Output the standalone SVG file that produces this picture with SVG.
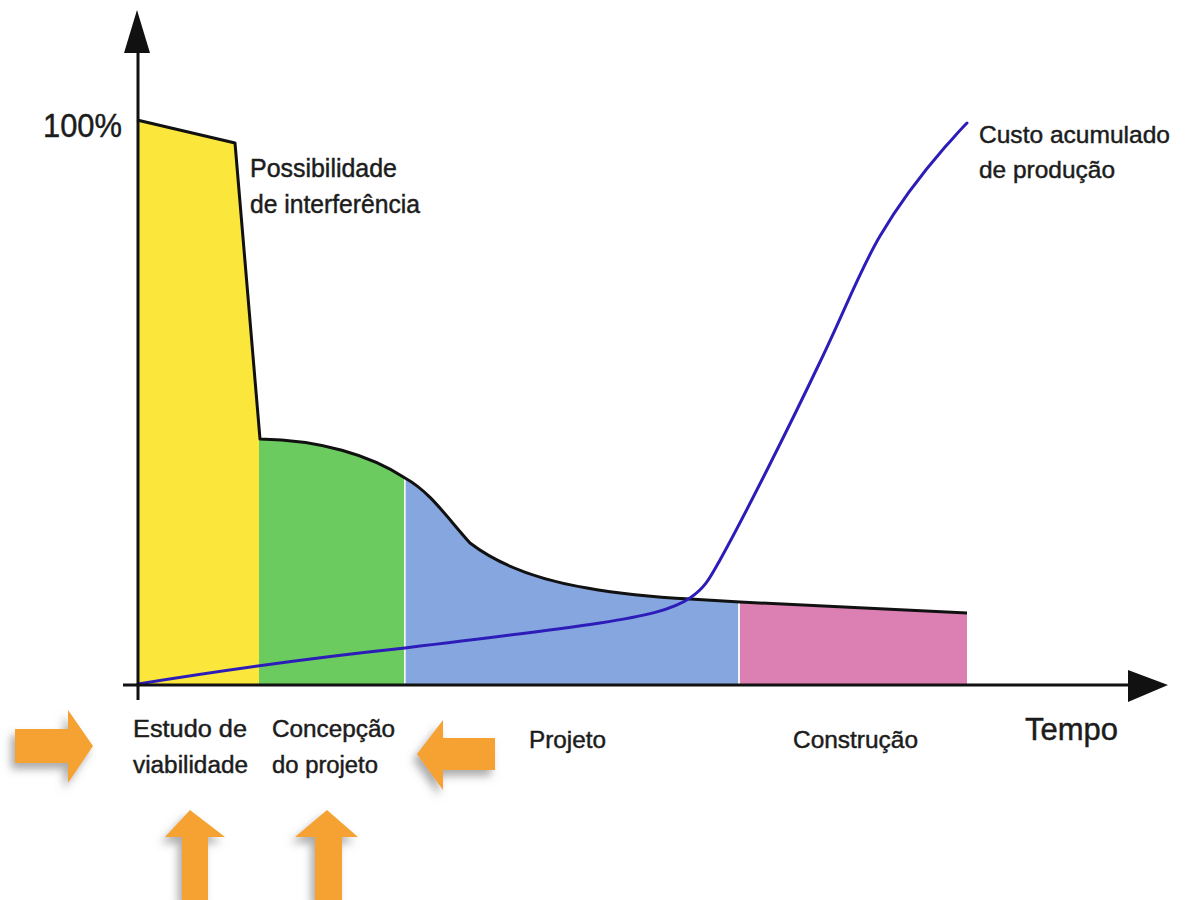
<svg xmlns="http://www.w3.org/2000/svg" width="1187" height="900" viewBox="0 0 1187 900">
  <style>
    .lbl { font-family: "Liberation Sans", Arial, sans-serif; fill: #1c1c1c; stroke: #1c1c1c; stroke-width: 0.45; }
    .axis { stroke: #111; stroke-width: 3; fill: none; }
    .outline { stroke: #111; stroke-width: 3; fill: none; stroke-linejoin: round; }
    .cost { stroke: #2d1db8; stroke-width: 3; fill: none; stroke-linecap: round; stroke-linejoin: round; }
    .gap { stroke: #f2f2f2; stroke-width: 1.5; }
    .pointer { fill: #f6a232; filter: url(#shadow); }
  </style>
  <defs>
    <filter id="shadow" x="-40%" y="-40%" width="180%" height="180%">
      <feDropShadow dx="-4" dy="6" stdDeviation="4" flood-color="#666" flood-opacity="0.55"/>
    </filter>
  </defs>

  <rect width="1187" height="900" fill="#ffffff"/>

  <!-- phase areas under the interference curve -->
  <g id="phase-viabilidade">
    <polygon points="138,121 235,143 259,439 259,684 138,684" fill="#fbe63c"/>
  </g>
  <g id="phase-concepcao">
    <path d="M259,439 C320,440 370,455 404,477 L404,684 L259,684 Z" fill="#6ccb5e"/>
  </g>
  <g id="phase-projeto">
    <path d="M405,478 C430,492 445,515 470,543 C500,566 540,580 587,588 C620,594 650,597 690,599 L738,602 L738,684 L405,684 Z" fill="#86a6e0"/>
  </g>
  <g id="phase-construcao">
    <path d="M740,602 L967,613 L967,684 L740,684 Z" fill="#dc80b3"/>
  </g>
  <line class="gap" x1="405" y1="479" x2="405" y2="683"/>
  <line class="gap" x1="739" y1="603" x2="739" y2="683"/>

  <!-- curves and axes -->
  <g id="connectors">
    <path class="outline" d="M137,120 L235,143 L260,439 C320,440 370,455 405,478 C430,492 445,515 470,543 C500,566 540,580 587,588 C620,594 650,597 690,599 L740,602 L967,613"/>
    <path class="cost" d="M138,684 C200,674 300,659 405,648 C480,639 560,629 600,623 C645,616 672,610 690,598 C705,588 710,578 720,560 C745,515 790,425 820,362 C845,310 860,270 880,236 C900,202 925,170 945,147 C955,136 960,130 967,123"/>
    <line class="axis" x1="138" y1="700" x2="138" y2="48"/>
    <polygon points="137,10 124,53 150,53" fill="#111"/>
    <line class="axis" x1="123" y1="685" x2="1132" y2="685"/>
    <polygon points="1168,685 1128,670 1128,702" fill="#111"/>
  </g>

  <!-- labels -->
  <g id="label-100">
    <text class="lbl" x="43" y="137" font-size="33" textLength="79" lengthAdjust="spacingAndGlyphs">100%</text>
  </g>
  <g id="label-interferencia">
    <text class="lbl" x="250" y="177" font-size="25" textLength="147" lengthAdjust="spacingAndGlyphs">Possibilidade</text>
    <text class="lbl" x="250" y="213" font-size="25" textLength="170" lengthAdjust="spacingAndGlyphs">de interferência</text>
  </g>
  <g id="label-custo">
    <text class="lbl" x="979" y="143" font-size="24.5" textLength="191" lengthAdjust="spacingAndGlyphs">Custo acumulado</text>
    <text class="lbl" x="979" y="178" font-size="24.5" textLength="136" lengthAdjust="spacingAndGlyphs">de produção</text>
  </g>
  <g id="label-estudo">
    <text class="lbl" x="133" y="737" font-size="23" textLength="114" lengthAdjust="spacingAndGlyphs">Estudo de</text>
    <text class="lbl" x="133" y="773" font-size="23" textLength="115" lengthAdjust="spacingAndGlyphs">viabilidade</text>
  </g>
  <g id="label-concepcao">
    <text class="lbl" x="272" y="737" font-size="23" textLength="123" lengthAdjust="spacingAndGlyphs">Concepção</text>
    <text class="lbl" x="272" y="773" font-size="23" textLength="106" lengthAdjust="spacingAndGlyphs">do projeto</text>
  </g>
  <g id="label-projeto">
    <text class="lbl" x="529" y="748" font-size="24" textLength="77" lengthAdjust="spacingAndGlyphs">Projeto</text>
  </g>
  <g id="label-construcao">
    <text class="lbl" x="793" y="748" font-size="24" textLength="125" lengthAdjust="spacingAndGlyphs">Construção</text>
  </g>
  <g id="label-tempo">
    <text class="lbl" x="1025" y="740" font-size="31" textLength="93" lengthAdjust="spacingAndGlyphs">Tempo</text>
  </g>

  <!-- orange pointers -->
  <g id="pointer-right">
    <polygon class="pointer" points="15,729 68,729 68,710 93,746 68,783 68,763 15,763"/>
  </g>
  <g id="pointer-left">
    <polygon class="pointer" points="495,738 443,738 443,720 417,754 443,790 443,770 495,770"/>
  </g>
  <g id="pointer-up-1">
    <polygon class="pointer" points="182,900 182,837 165,837 190,810 225,837 208,837 208,900"/>
  </g>
  <g id="pointer-up-2">
    <polygon class="pointer" points="315,900 315,837 295,837 327,810 358,837 342,837 342,900"/>
  </g>
</svg>
